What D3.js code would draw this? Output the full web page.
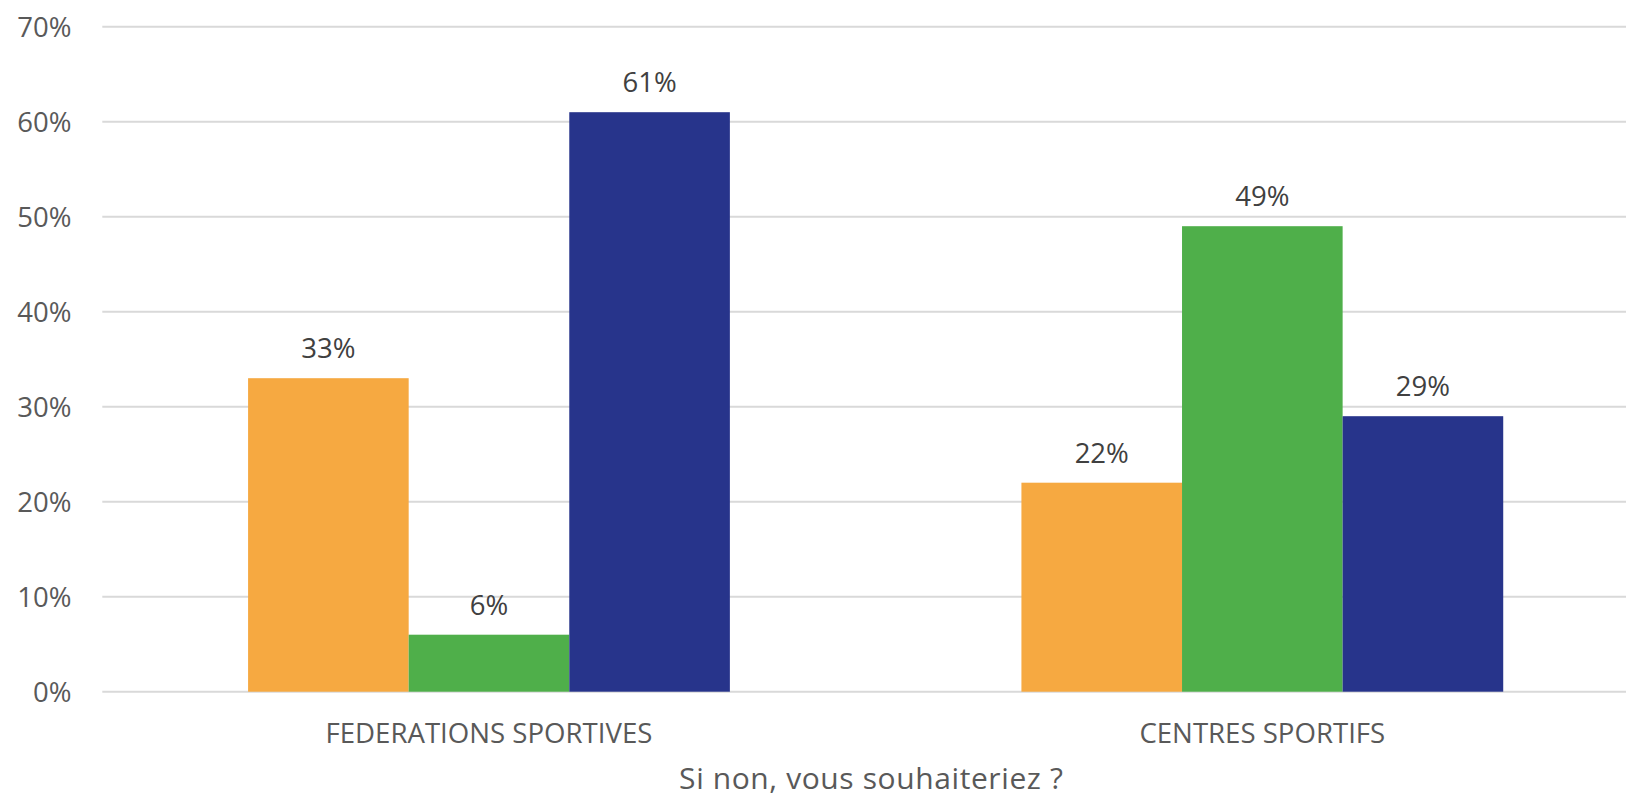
<!DOCTYPE html>
<html>
<head>
<meta charset="utf-8">
<script src="https://cdn.jsdelivr.net/npm/d3@7"></script>
<style>
  html, body { margin: 0; padding: 0; background: #fff; }
  svg { display: block; font-family: "Open Sans", sans-serif; }
</style>
</head>
<body>
<svg id="chart" width="1626" height="798"></svg>
<script>
// chart data
var categories = ["FEDERATIONS SPORTIVES", "CENTRES SPORTIFS"];
var seriesNames = ["Série 1", "Série 2", "Série 3"];
var seriesColors = ["#F6A941", "#4FAF4A", "#27348B"];
var federations = [0.33, 0.06, 0.61];
var centres = [0.22, 0.49, 0.29];
var yTicks = [0, 0.1, 0.2, 0.3, 0.4, 0.5, 0.6, 0.7];
var axisTitle = "Si non, vous souhaiteriez ?";

var values = [federations, centres];

var svg = d3.select("#chart");

var x0 = d3.scaleBand()
    .domain(categories)
    .range([102.3, 1649])
    .paddingInner(0.377)
    .paddingOuter(0.1885);

var x1 = d3.scaleBand()
    .domain(seriesNames)
    .range([0, x0.bandwidth()]);

var y = d3.scaleLinear()
    .domain([0, 0.7])
    .range([691.7, 26.7]);

var fmt = d3.format(".0%");

// gridlines
svg.append("g")
    .selectAll("line")
    .data(yTicks)
  .enter().append("line")
    .attr("x1", 102.3)
    .attr("x2", 1626)
    .attr("y1", d => y(d))
    .attr("y2", d => y(d))
    .attr("stroke", "#D9D9D9")
    .attr("stroke-width", 2);

// y tick labels
svg.append("g")
    .selectAll("text")
    .data(yTicks)
  .enter().append("text")
    .attr("x", 71.5)
    .attr("y", d => y(d))
    .attr("dy", "0.36em")
    .attr("text-anchor", "end")
    .attr("fill", "#595959")
    .style("font-size", "27.5px")
    .text(d => fmt(d));

// bars
var groups = svg.append("g")
    .selectAll("g")
    .data(categories)
  .enter().append("g")
    .attr("transform", d => "translate(" + x0(d) + ",0)");

groups.selectAll("rect")
    .data((d, i) => values[i].map((v, j) => ({ key: seriesNames[j], value: v, color: seriesColors[j] })))
  .enter().append("rect")
    .attr("x", d => x1(d.key))
    .attr("width", x1.bandwidth())
    .attr("y", d => y(d.value))
    .attr("height", d => y(0) - y(d.value))
    .attr("fill", d => d.color);

// data labels
groups.selectAll("text")
    .data((d, i) => values[i].map((v, j) => ({ key: seriesNames[j], value: v })))
  .enter().append("text")
    .attr("x", d => x1(d.key) + x1.bandwidth() / 2)
    .attr("y", d => y(d.value) - 20)
    .attr("text-anchor", "middle")
    .attr("fill", "#404040")
    .style("font-size", "27.5px")
    .text(d => fmt(d.value));

// category labels
svg.append("g")
    .selectAll("text")
    .data(categories)
  .enter().append("text")
    .attr("x", d => x0(d) + x0.bandwidth() / 2)
    .attr("y", 742.7)
    .attr("text-anchor", "middle")
    .attr("fill", "#595959")
    .style("font-size", "27.6px")
    .text(d => d);

// axis title
svg.append("text")
    .attr("x", 871.3)
    .attr("y", 789)
    .attr("text-anchor", "middle")
    .attr("fill", "#595959")
    .style("font-size", "30px")
    .style("letter-spacing", "0.6px")
    .text(axisTitle);
</script>
</body>
</html>
